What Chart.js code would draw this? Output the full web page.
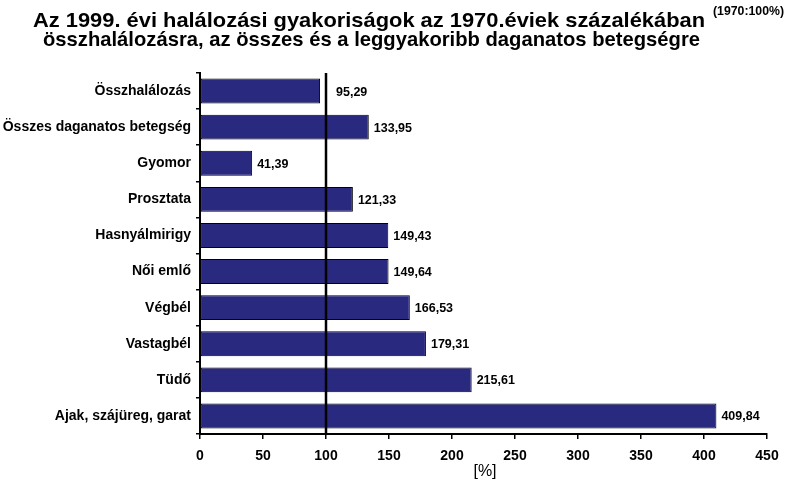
<!DOCTYPE html>
<html>
<head>
<meta charset="utf-8">
<script src="https://cdn.jsdelivr.net/npm/chart.js@4/dist/chart.umd.min.js"></script>
<style>
  html, body { margin: 0; padding: 0; background: #ffffff; }
  #wrap { width: 800px; height: 486px; }
</style>
</head>
<body>
<div id="wrap"><canvas id="c" width="800" height="486"></canvas></div>
<script>
const titleLine1 = "Az 1999. évi halálozási gyakoriságok az 1970.éviek százalékában";
const titleLine2 = "összhalálozásra, az összes és a leggyakoribb daganatos betegségre";
const titleNote = "(1970:100%)";
const axisTitle = "[%]";
const categories = ["Összhalálozás", "Összes daganatos betegség", "Gyomor", "Prosztata", "Hasnyálmirigy", "Női emlő", "Végbél", "Vastagbél", "Tüdő", "Ajak, szájüreg, garat"];
const values = [95.29, 133.95, 41.39, 121.33, 149.43, 149.64, 166.53, 179.31, 215.61, 409.84];
const valueLabels = ["95,29", "133,95", "41,39", "121,33", "149,43", "149,64", "166,53", "179,31", "215,61", "409,84"];
const xMin = 0, xMax = 450, xStep = 50;
const referenceLine = 100;

function fitText(ctx, text, x, y, targetW) {
  const w = ctx.measureText(text).width;
  const s = targetW / w;
  ctx.save();
  ctx.translate(x, y);
  ctx.scale(s, 1);
  ctx.fillText(text, 0, 0);
  ctx.restore();
}

const decor = {
  id: 'decor',
  afterDraw(chart) {
    const ctx = chart.ctx;
    ctx.save();
    ctx.fillStyle = '#000';
    ctx.textBaseline = 'alphabetic';
    ctx.textAlign = 'left';
    ctx.font = 'bold 20.5px "Liberation Sans", Arial, sans-serif';
    fitText(ctx, titleLine1, 33, 27, 672);
    fitText(ctx, titleLine2, 43, 46, 657);
    ctx.font = 'bold 12px "Liberation Sans", Arial, sans-serif';
    fitText(ctx, titleNote, 713, 15, 71);
    ctx.font = '16px "Liberation Sans", Arial, sans-serif';
    ctx.textAlign = 'center';
    ctx.fillText(axisTitle, 485, 476);
    ctx.restore();
  },
  afterDatasetsDraw(chart) {
    const ctx = chart.ctx;
    const xs = chart.scales.x;
    const area = chart.chartArea;
    const lx = xs.getPixelForValue(referenceLine);
    ctx.save();
    ctx.strokeStyle = '#000';
    ctx.lineWidth = 2.5;
    ctx.beginPath();
    ctx.moveTo(lx, area.top);
    ctx.lineTo(lx, area.bottom);
    ctx.stroke();
    const meta = chart.getDatasetMeta(0);
    ctx.font = 'bold 12.5px "Liberation Sans", Arial, sans-serif';
    ctx.fillStyle = '#000';
    ctx.textBaseline = 'middle';
    ctx.textAlign = 'left';
    meta.data.forEach((bar, i) => {
      const txt = valueLabels[i];
      const w = ctx.measureText(txt).width;
      let x = bar.x + 5;
      if (bar.x < lx && x + w > lx - 2) x = lx + 10;
      ctx.fillText(txt, x, bar.y + 1);
    });
    ctx.restore();
  }
};

new Chart(document.getElementById('c'), {
  type: 'bar',
  data: {
    labels: categories,
    datasets: [{
      data: values,
      backgroundColor: '#2a2980',
      borderColor: '#000',
      borderWidth: 1,
      borderSkipped: false,
      barPercentage: 0.69,
      categoryPercentage: 1
    }]
  },
  options: {
    indexAxis: 'y',
    responsive: false,
    animation: false,
    devicePixelRatio: 1,
    layout: { padding: { top: 73, right: 33, left: 0, bottom: 0 } },
    plugins: { legend: { display: false }, tooltip: { enabled: false }, title: { display: false } },
    scales: {
      x: {
        type: 'linear',
        min: xMin, max: xMax,
        ticks: {
          stepSize: xStep,
          color: '#000',
          font: { family: '"Liberation Sans", Arial, sans-serif', size: 14, weight: 'bold' },
          padding: 9,
          maxRotation: 0
        },
        grid: { drawOnChartArea: false, drawTicks: true, tickLength: 5, color: '#000', lineWidth: 1.5 },
        border: { display: true, color: '#000', width: 2 },
        afterFit: s => { s.height = 52; }
      },
      y: {
        ticks: {
          color: '#000',
          font: { family: '"Liberation Sans", Arial, sans-serif', size: 14, weight: 'bold' },
          padding: 5
        },
        grid: { drawOnChartArea: false, drawTicks: true, tickLength: 4, color: '#000', lineWidth: 1.5, offset: true },
        border: { display: true, color: '#000', width: 2 },
        afterFit: s => { s.width = 200; }
      }
    }
  },
  plugins: [decor]
});
</script>
</body>
</html>
